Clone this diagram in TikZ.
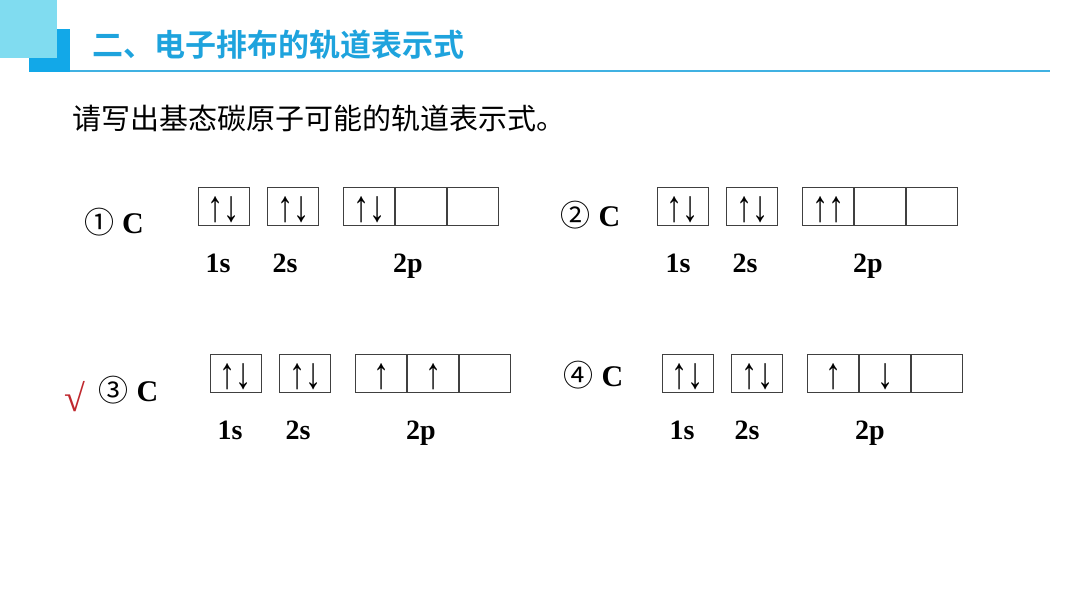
\documentclass[tikz,border=0pt]{standalone}
\usepackage{fontspec}
\setmainfont{Liberation Serif}
\newfontfamily\cjk{Noto Sans CJK SC}
\newfontfamily\cjkb{Noto Sans CJK SC Bold}
\usetikzlibrary{positioning}
\definecolor{skyLight}{HTML}{80DCF0}
\definecolor{skyDark}{HTML}{12A8E8}
\definecolor{skyText}{HTML}{1EA3DD}
\definecolor{tickRed}{HTML}{C0282E}
\tikzset{
  orb/.style={draw=black!75, line width=0.9pt, minimum width=51pt, minimum height=38pt, inner sep=0pt, font=\fontsize{34}{34}\selectfont},
  lbl/.style={anchor=base, inner sep=0pt, font=\fontsize{28}{28}\selectfont\bfseries},
  elem/.style={anchor=base west, inner sep=0pt, font=\fontsize{30}{30}\selectfont},
}
\newcommand{\elemC}[1]{{\cjk #1}\hspace{8pt}\textbf{C}}
\newcommand{\spins}[1]{\raisebox{-4pt}[\height][\depth]{\scalebox{0.95}[1.3]{#1}}}

\begin{document}
\begin{tikzpicture}[x=1pt, y=-1pt]
\useasboundingbox[fill=white] (0,0) rectangle (1080,608);
% header
\fill[skyDark] (29,29) rectangle (70,72);
\fill[skyLight] (0,0) rectangle (57,58);
\draw[skyText!85, line width=1.6pt] (70,71.2) -- (1050,71.2);
\node[anchor=west, inner sep=0pt, text=skyText, font=\cjkb\fontsize{31}{31}\selectfont] (title) at (92,45) {二、电子排布的轨道表示式};
\node[anchor=west, inner sep=0pt, font=\cjk\fontsize{29}{29}\selectfont] (task) at (72,118) {请写出基态碳原子可能的轨道表示式。};
% option 1
\node[elem] (eA) at (84,233.5) {\elemC{①}};
\begin{scope}[shift={(198,187)}]
\node[orb] (a1s) at (25.5,19) {\spins{↑↓}};
\node[orb, right=18pt of a1s] (a2s) {\spins{↑↓}};
\node[orb, right=24pt of a2s] (a2px) {\spins{↑↓}};
\node[orb, right=0pt of a2px] (a2py) {};
\node[orb, right=0pt of a2py] (a2pz) {};
\node[lbl] (aL1) at (20,85) {1s};
\node[lbl] (aL2) at (87,85) {2s};
\node[lbl] (aL3) at (210,85) {2p};
\end{scope}
% option 2
\node[elem] (eB) at (560.5,226.7) {\elemC{②}};
\begin{scope}[shift={(657,187)}]
\node[orb] (b1s) at (25.5,19) {\spins{↑↓}};
\node[orb, right=18pt of b1s] (b2s) {\spins{↑↓}};
\node[orb, right=24pt of b2s] (b2px) {\spins{↑↑}};
\node[orb, right=0pt of b2px] (b2py) {};
\node[orb, right=0pt of b2py] (b2pz) {};
\node[lbl] (bL1) at (21,85) {1s};
\node[lbl] (bL2) at (88,85) {2s};
\node[lbl] (bL3) at (211,85) {2p};
\end{scope}
% option 3 (correct)
\node[text=tickRed, inner sep=0pt, font=\fontsize{38}{38}\selectfont] (tick) at (75,397) {√};
\node[elem] (eC) at (98.5,401.7) {\elemC{③}};
\begin{scope}[shift={(210,354)}]
\node[orb] (c1s) at (25.5,19) {\spins{↑↓}};
\node[orb, right=18pt of c1s] (c2s) {\spins{↑↓}};
\node[orb, right=24pt of c2s] (c2px) {\spins{↑}};
\node[orb, right=0pt of c2px] (c2py) {\spins{↑}};
\node[orb, right=0pt of c2py] (c2pz) {};
\node[lbl] (cL1) at (20,85) {1s};
\node[lbl] (cL2) at (88,85) {2s};
\node[lbl] (cL3) at (211,85) {2p};
\end{scope}
% option 4
\node[elem] (eD) at (563.5,386) {\elemC{④}};
\begin{scope}[shift={(662,354)}]
\node[orb] (d1s) at (25.5,19) {\spins{↑↓}};
\node[orb, right=18pt of d1s] (d2s) {\spins{↑↓}};
\node[orb, right=24pt of d2s] (d2px) {\spins{↑}};
\node[orb, right=0pt of d2px] (d2py) {\spins{↓}};
\node[orb, right=0pt of d2py] (d2pz) {};
\node[lbl] (dL1) at (20,85) {1s};
\node[lbl] (dL2) at (85,85) {2s};
\node[lbl] (dL3) at (208,85) {2p};
\end{scope}
\end{tikzpicture}
\end{document}
